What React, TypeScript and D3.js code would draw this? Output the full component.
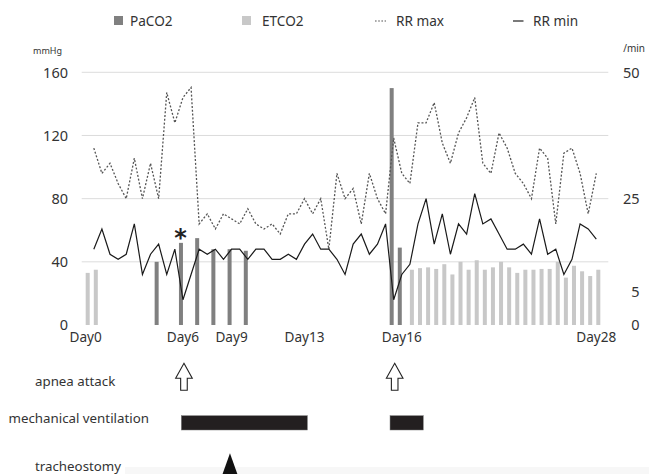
import React from "react";
import * as d3 from "d3";

// ---------- data ----------
const categoryCount = 64; // category slots along the x axis (index 0..63)
const dayLabels = ["Day0", "Day6", "Day9", "Day13", "Day16", "Day28"];
const dayLabelIndex = [0, 12, 18, 27, 39, 63];

// PaCO2 (mmHg) – index / value
const pacoIndex = [9, 12, 14, 16, 18, 20, 38, 39];
const pacoValue = [40, 52, 55, 48, 48, 47, 150, 49];

// ETCO2 (mmHg) – index / value
const etcoIndex = [0, 1, 40, 41, 42, 43, 44, 45, 46, 47, 48, 49, 50, 51, 52, 53, 54, 55, 56, 57, 58, 59, 60, 61, 62, 63];
const etcoValue = [33, 35, 35, 36, 36.5, 35.5, 38.5, 32, 40, 35, 41, 35, 36.5, 40, 36.5, 33, 35, 35, 35.5, 35.5, 40, 30, 37.5, 34, 31, 35];

// RR max / RR min (/min) for categories 1..63
const rrMax = [35, 30, 32, 28, 25, 33, 25, 32, 25, 46, 40, 45, 47, 20, 22, 19, 22, 21, 20, 23, 20, 19, 20, 18, 22, 22, 25, 22, 25, 15, 30, 25, 27, 20, 30, 25, 22, 37, 30, 28, 40, 40, 44, 36, 32, 38, 41, 45, 32, 30, 38, 35, 30, 28, 25, 35, 33, 20, 34, 35, 30, 22, 30];
const rrMin = [15, 19, 14, 13, 14, 20, 10, 14, 16, 10, 15, 5, 10, 15, 14, 15, 13, 15, 15, 13, 15, 15, 13, 13, 14, 13, 16, 18, 15, 15, 13, 10, 16, 18, 14, 16, 20, 5, 10, 12, 20, 25, 16, 22, 14, 20, 18, 26, 20, 21, 18, 15, 15, 16, 14, 21, 14, 15, 10, 13, 20, 19, 17];

const leftTicks = [0, 40, 80, 120, 160];
const rightTicks = [0, 5, 25, 50];
const asteriskIndex = 12;

// events (in category units)
const apneaIndex = [12, 38];
const ventStart = [11.8, 37.55];
const ventEnd = [27.35, 41.65];
const tracheostomyIndex = 17.8;

const legendItems = ["PaCO2", "ETCO2", "RR max", "RR min"];

// ---------- styling ----------
const W = 649;
const H = 474;
const FONT = "'Noto Sans', 'DejaVu Sans', sans-serif";
const PACO_COLOR = "#808080";
const ETCO_COLOR = "#c8c8c8";
const GRID = "#dcdcdc";
const TEXT = "#333";

export default function App() {
  const x = d3.scaleLinear().domain([0, categoryCount - 1]).range([85.7, 596.3]);
  const yL = d3.scaleLinear().domain([0, 160]).range([325, 72.3]);
  const yR = d3.scaleLinear().domain([0, 50]).range([325, 72.3]);
  const barW = 4;

  const line = d3
    .line<number>()
    .x((_, i) => x(i + 1))
    .y((d) => yR(d));

  const gridTicks = leftTicks.filter((t) => t > 0);

  const arrowPath = (cx: number, top: number) => {
    const hw = 8.3, sw = 3.3, headH = 15, bottom = top + 27;
    return `M${cx},${top} L${cx + hw},${top + headH} L${cx + sw},${top + headH} L${cx + sw},${bottom} L${cx - sw},${bottom} L${cx - sw},${top + headH} L${cx - hw},${top + headH} Z`;
  };

  return (
    <svg
      width={W}
      height={H}
      style={{ position: "absolute", left: 0, top: 0, background: "#fff" }}
      fontFamily={FONT}
    >
      <rect x={0} y={0} width={W} height={H} fill="#fff" />
      <rect x={125} y={467} width={W - 125} height={H - 467} fill="#f7f7f7" />

      {/* legend */}
      <g fontSize={13.6} fill={TEXT}>
        <rect x={114} y={16} width={9} height={9} fill={PACO_COLOR} />
        <text x={130} y={25.5}>{legendItems[0]}</text>
        <rect x={242} y={16} width={9} height={9} fill={ETCO_COLOR} />
        <text x={262} y={25.5}>{legendItems[1]}</text>
        <line x1={375} x2={386} y1={21} y2={21} stroke="#555" strokeWidth={1.2} strokeDasharray="1.6,1.6" />
        <text x={396} y={25.5}>{legendItems[2]}</text>
        <line x1={513} x2={523.5} y1={21} y2={21} stroke="#222" strokeWidth={1.2} />
        <text x={533} y={25.5}>{legendItems[3]}</text>
      </g>

      {/* unit labels */}
      <text x={33} y={54} fontSize={9} fill={TEXT}>mmHg</text>
      <text x={645} y={52} fontSize={10} fill={TEXT} textAnchor="end">/min</text>

      {/* grid */}
      {gridTicks.map((t) => (
        <line key={t} x1={81.7} x2={608.3} y1={yL(t)} y2={yL(t)} stroke={GRID} strokeWidth={1} />
      ))}

      {/* left ticks */}
      {leftTicks.map((t) => (
        <text key={t} x={68} y={yL(t)} dy="0.36em" fontSize={14.5} fill={TEXT} textAnchor="end">
          {t}
        </text>
      ))}
      {/* right ticks */}
      {rightTicks.map((t) => (
        <text key={t} x={639.5} y={yR(t) - (t === 5 ? 8 : 0)} dy="0.36em" fontSize={14.5} fill={TEXT} textAnchor="end">
          {t}
        </text>
      ))}

      {/* bars */}
      {pacoIndex.map((k, i) => (
        <rect key={"p" + k} x={x(k) - barW} y={yL(pacoValue[i])} width={barW} height={yL(0) - yL(pacoValue[i])} fill={PACO_COLOR} />
      ))}
      {etcoIndex.map((k, i) => (
        <rect key={"e" + k} x={x(k)} y={yL(etcoValue[i])} width={barW} height={yL(0) - yL(etcoValue[i])} fill={ETCO_COLOR} />
      ))}

      {/* asterisk */}
      <text
        x={x(asteriskIndex) - 2.5}
        y={yL(pacoValue[pacoIndex.indexOf(asteriskIndex)]) + 3}
        fontSize={24}
        fontWeight="bold"
        fontFamily="'DejaVu Sans', sans-serif"
        textAnchor="middle"
        fill="#222"
      >
        *
      </text>

      {/* lines */}
      <path d={line(rrMax) || ""} fill="none" stroke="#555" strokeWidth={1.3} strokeDasharray="2,1.8" />
      <path d={line(rrMin) || ""} fill="none" stroke="#1a1a1a" strokeWidth={1.2} />

      {/* x labels */}
      {dayLabels.map((lab, i) => (
        <text key={lab} x={x(dayLabelIndex[i])} y={341.5} fontSize={13.6} fill={TEXT} textAnchor="middle">
          {lab}
        </text>
      ))}

      {/* event rows */}
      <g fontSize={13.3} fill={TEXT}>
        <text x={35} y={385.5}>apnea attack</text>
        <text x={8.5} y={423}>mechanical ventilation</text>
        <text x={35} y={471}>tracheostomy</text>
      </g>
      {apneaIndex.map((k) => (
        <path key={"a" + k} d={arrowPath(x(k) + 1, 363.3)} fill="#fff" stroke="#222" strokeWidth={1.1} />
      ))}
      {ventStart.map((s, i) => (
        <rect key={"v" + i} x={x(s)} y={415.7} width={x(ventEnd[i]) - x(s)} height={14.3} fill="#231f20" stroke="#777" strokeWidth={0.5} />
      ))}
      <path
        d={`M${x(tracheostomyIndex)},453.3 L${x(tracheostomyIndex) + 7.4},474 L${x(tracheostomyIndex) - 7.4},474 Z`}
        fill="#111"
      />
    </svg>
  );
}
